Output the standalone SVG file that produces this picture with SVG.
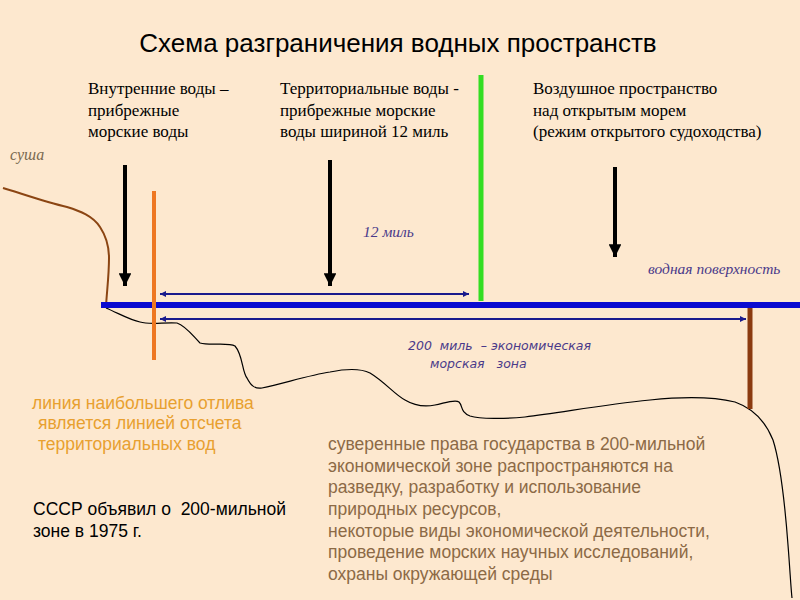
<svg xmlns="http://www.w3.org/2000/svg" width="800" height="600" viewBox="0 0 800 600">
<defs>
<style>
.title{font-family:"Liberation Sans",Arial,sans-serif;font-size:26px;fill:#000}
.lbl{font-family:"Liberation Serif","Times New Roman",serif;font-size:17px;fill:#000}
.it{font-family:"Liberation Serif","Times New Roman",serif;font-style:italic;font-size:15.5px;fill:#4a3a8a}
.it2{font-family:"DejaVu Sans","Liberation Sans",sans-serif;font-style:italic;font-size:12.5px;fill:#4a3a8a}
.or{font-family:"Liberation Sans",Arial,sans-serif;font-size:17.5px;fill:#e8a030}
.br{font-family:"Liberation Sans",Arial,sans-serif;font-size:17.5px;fill:#8c6a46}
.bk{font-family:"Liberation Sans",Arial,sans-serif;font-size:17.5px;fill:#000}
.arr{stroke:#000;stroke-width:4;fill:none}
.dim{stroke:#1a1a8c;stroke-width:2;fill:none;marker-start:url(#ms);marker-end:url(#me)}
</style>
<marker id="ah" viewBox="0 0 10 10" refX="10" refY="5" markerWidth="3.2" markerHeight="3.2" orient="auto" markerUnits="strokeWidth"><path d="M0,0L10,5L0,10z" fill="#000"/></marker>
<marker id="me" viewBox="0 0 10 10" refX="10" refY="5" markerWidth="4" markerHeight="3" orient="auto" markerUnits="strokeWidth"><path d="M0,0L10,5L0,10z" fill="#1a1a8c"/></marker>
<marker id="ms" viewBox="0 0 10 10" refX="0" refY="5" markerWidth="4" markerHeight="3" orient="auto" markerUnits="strokeWidth"><path d="M10,0L0,5L10,10z" fill="#1a1a8c"/></marker>
</defs>
<rect width="800" height="600" fill="#fde8cf"/>
<text class="title" x="398" y="52" text-anchor="middle">Схема разграничения водных пространств</text>

<g id="coast">
<path d="M3,188 C20,193 45,202 67,207 C80,211 93,216 100,227 C106,236 109,248 109,258 C109,275 107,290 106,306" stroke="#8b4513" stroke-width="2" fill="none"/>
<text x="10" y="160" font-family="Liberation Serif,serif" font-style="italic" font-size="16" fill="#7a6a50">суша</text>
</g>

<g id="seabed">
<path d="M106,308 C120,314 130,320 140,322 C150,325 165,322 177,323 C186,326 193,336 200,343 C210,346 228,342 235,346 C243,355 242,372 247,378 C251,386 255,389 262,388 C285,383 310,375 330,372 C345,369 360,368 370,373 C385,382 395,395 405,400 C415,406 425,407 435,405 C445,403 455,399 459,402 C463,406 460,412 470,416 C480,419 505,419 525,417 C560,413 600,405 650,400 C680,397 710,396 735,402 C752,408 765,420 773,440 C780,462 785,505 788,545 C790,570 791,590 792,598" stroke="#000" stroke-width="1.2" fill="none"/>
</g>

<g id="water">
<line x1="101" y1="305" x2="800" y2="305" stroke="#0a0ad0" stroke-width="6"/>
<text class="it" x="648" y="274">водная поверхность</text>
</g>

<g id="low-tide-line">
<line x1="154" y1="191" x2="154" y2="360" stroke="#ee7722" stroke-width="4"/>
</g>
<g id="territorial-limit">
<line x1="481" y1="75" x2="481" y2="301" stroke="#33dd22" stroke-width="5"/>
</g>
<g id="eez-limit">
<line x1="750" y1="308" x2="750" y2="409" stroke="#8b3a10" stroke-width="5"/>
</g>

<g id="connectors">
<line class="arr" x1="125" y1="165" x2="125" y2="286" marker-end="url(#ah)"/>
<line class="arr" x1="330" y1="160" x2="330" y2="286" marker-end="url(#ah)"/>
<line class="arr" x1="615" y1="167" x2="615" y2="257" marker-end="url(#ah)"/>
<line class="dim" x1="160" y1="294" x2="469" y2="294"/>
<line class="dim" x1="160" y1="319" x2="746" y2="319"/>
</g>

<g id="internal-waters">
<text class="lbl" x="88" y="94">Внутренние воды –</text>
<text class="lbl" x="88" y="116">прибрежные</text>
<text class="lbl" x="88" y="137">морские воды</text>
</g>
<g id="territorial-waters">
<text class="lbl" x="280" y="94">Территориальные воды -</text>
<text class="lbl" x="280" y="116">прибрежные морские</text>
<text class="lbl" x="280" y="137">воды шириной 12 миль</text>
<text class="it" x="363" y="237">12 миль</text>
</g>
<g id="airspace">
<text class="lbl" x="533" y="94">Воздушное пространство</text>
<text class="lbl" x="533" y="116">над открытым морем</text>
<text class="lbl" x="533" y="137">(режим открытого судоходства)</text>
</g>
<g id="eez-label">
<text class="it2" x="408" y="350" xml:space="preserve">200  миль  – экономическая</text>
<text class="it2" x="430" y="368" xml:space="preserve">морская   зона</text>
</g>
<g id="low-tide-note">
<text class="or" x="32" y="409">линия наибольшего отлива</text>
<text class="or" x="38" y="429">является линией отсчета</text>
<text class="or" x="38" y="450">территориальных вод</text>
</g>
<g id="rights-note">
<text class="br" x="328" y="450">суверенные права государства в 200-мильной</text>
<text class="br" x="328" y="472">экономической зоне распространяются на</text>
<text class="br" x="328" y="493">разведку, разработку и использование</text>
<text class="br" x="328" y="515">природных ресурсов,</text>
<text class="br" x="328" y="537">некоторые виды экономической деятельности,</text>
<text class="br" x="328" y="558">проведение морских научных исследований,</text>
<text class="br" x="328" y="580">охраны окружающей среды</text>
</g>
<g id="ussr-note">
<text class="bk" x="33" y="515" xml:space="preserve">СССР объявил о  200-мильной</text>
<text class="bk" x="33" y="537">зоне в 1975 г.</text>
</g>
</svg>
